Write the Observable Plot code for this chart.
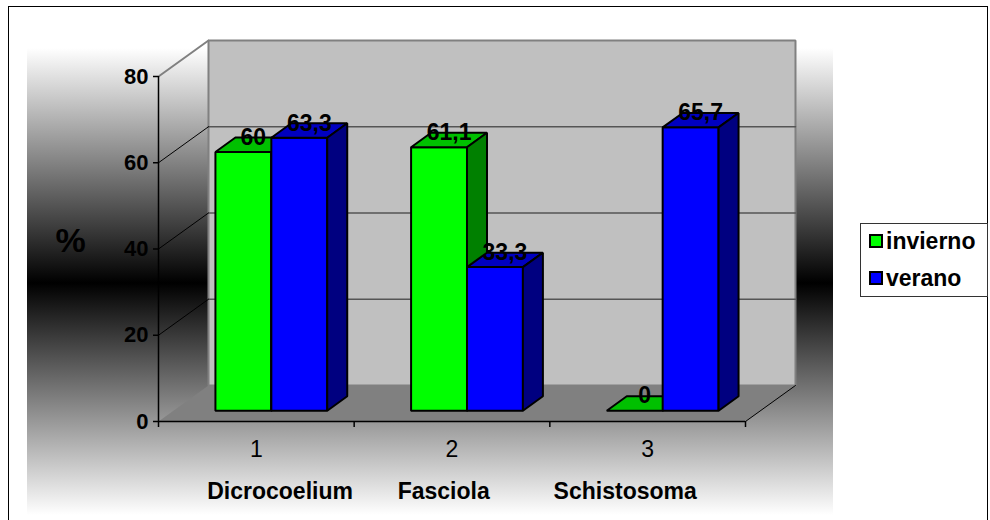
<!DOCTYPE html>
<html>
<head>
<meta charset="utf-8">
<script src="https://cdn.jsdelivr.net/npm/d3@7"></script>
<script src="https://cdn.jsdelivr.net/npm/@observablehq/plot@0.6"></script>
<style>
  html, body { margin: 0; padding: 0; background: #fff; }
  #chart { position: relative; width: 990px; height: 520px; overflow: hidden;
           font-family: Arial, "Liberation Sans", sans-serif; }
  #chart .frame { position: absolute; left: 8px; top: 6px; width: 980px; height: 520px;
                  border: 1px solid #000; box-sizing: border-box; }
  #chart .shade { position: absolute; left: 27px; top: 48px; width: 806px; height: 467px;
                  background: linear-gradient(to bottom, #fff 0%, #000 50.3%, #fff 100%); }
  #chart svg { position: absolute; left: 0; top: 0; }
  #chart .legend { position: absolute; left: 860px; top: 223px; width: 128px; height: 74px;
                   box-sizing: border-box; border: 1px solid #333; background: #fff;
                   font-weight: bold; font-size: 23px; color: #000; }
  #chart .legend .row { position: absolute; left: 8px; height: 26px; display: flex; align-items: center; }
  #chart .legend .sw { width: 10px; height: 10px; border: 2px solid #000; margin-right: 3px; }
</style>
</head>
<body>
<div id="chart">
  <div class="frame"></div>
  <div class="shade"></div>
</div>
<script>
// Parasite prevalence (%) by season
const categories = ["Dicrocoelium", "Fasciola", "Schistosoma"];
const categoryNumbers = ["1", "2", "3"];
const seriesNames = ["invierno", "verano"];
const invierno = [60, 61.1, 0];
const verano = [63.3, 33.3, 65.7];
const yTicks = [0, 20, 40, 60, 80];
const yAxisTitle = "%";

// Colours for each series: front, top and side faces of the 3D columns
const seriesColors = [
  { front: "#00ff00", top: "#00c000", side: "#008000" },
  { front: "#0000ff", top: "#0000c0", side: "#000080" }
];

// Oblique projection of the depth axis, expressed in data units
const DEPTH_X = 0.2555;   // category widths per full depth
const DEPTH_Y = 8.35;     // percentage points per full depth
const BAR_W = 1 / 3.5;    // column width (gap width 150%)
const D0 = 0.3, D1 = 0.7; // front and back of the columns along the depth axis
const Y_MAX = yTicks[yTicks.length - 1];
const N = categories.length;

const proj = (u, v, d) => ({ x: u + d * DEPTH_X, y: v + d * DEPTH_Y });

// Build polygons as vertex tables (one id per face, drawn in order)
function polygonTable() {
  const rows = [];
  let id = 0;
  return {
    rows,
    add(fill, pts) {
      const k = id++;
      for (const [u, v, d] of pts) rows.push({ id: k, fill, ...proj(u, v, d) });
    }
  };
}

const wall = polygonTable();
wall.add("#c0c0c0", [[0, 0, 1], [N, 0, 1], [N, Y_MAX, 1], [0, Y_MAX, 1]]);

const floor = polygonTable();
floor.add("#808080", [[0, 0, 0], [N, 0, 0], [N, 0, 1], [0, 0, 1]]);

const values = [invierno, verano];
const columns = polygonTable();
const labels = [];
for (let i = 0; i < N; i++) {
  for (let s = 0; s < seriesNames.length; s++) {
    const v = values[s][i];
    const x0 = i + 0.5 + (s - 1) * BAR_W;
    const x1 = x0 + BAR_W;
    const c = seriesColors[s];
    if (v > 0) columns.add(c.front, [[x0, 0, D0], [x1, 0, D0], [x1, v, D0], [x0, v, D0]]);
    columns.add(c.top, [[x0, v, D0], [x1, v, D0], [x1, v, D1], [x0, v, D1]]);
    if (v > 0) columns.add(c.side, [[x1, 0, D0], [x1, 0, D1], [x1, v, D1], [x1, v, D0]]);
    const mid = proj((x0 + x1) / 2, v, (D0 + D1) / 2);
    labels.push({ ...mid, text: String(v).replace(".", ",") });
  }
}

// Gridlines: back wall (horizontal) and side wall (diagonal)
const gridTicks = yTicks.filter((t) => t > 0 && t < Y_MAX);
const backGrid = gridTicks.flatMap((t) => [
  { t, ...proj(0, t, 1) }, { t, ...proj(N, t, 1) }
]);
const sideGrid = gridTicks.flatMap((t) => [
  { t, ...proj(0, t, 0) }, { t, ...proj(0, t, 1) }
]);
const wallEdges = [
  { k: "top", ...proj(0, Y_MAX, 0) }, { k: "top", ...proj(0, Y_MAX, 1) }
];
const floorEdge = [
  { k: "r", ...proj(N, 0, 0) }, { k: "r", ...proj(N, 0, 1) }
];

// Category axis title, names separated by runs of non-breaking spaces
const nb = (n) => "\u00a0".repeat(n);
const axisTitle = categories[0] + nb(7) + categories[1] + nb(10) + categories[2];

const chart = Plot.plot({
  width: 990,
  height: 520,
  marginLeft: 158,
  marginRight: 245,
  marginTop: 76,
  marginBottom: 99,
  style: { background: "transparent", fontFamily: 'Arial, "Liberation Sans", sans-serif', color: "#000" },
  x: { type: "linear", domain: [0, N] },
  y: { type: "linear", domain: [0, Y_MAX] },
  color: { type: "identity" },
  marks: [
    // back wall
    Plot.line(wall.rows, { x: "x", y: "y", z: "id", fill: "fill", stroke: "#808080", strokeWidth: 2, curve: "linear-closed", strokeLinejoin: "miter" }),
    Plot.line(wallEdges, { x: "x", y: "y", z: "k", stroke: "#808080", strokeWidth: 2 }),
    // floor
    Plot.line(floor.rows, { x: "x", y: "y", z: "id", fill: "fill", stroke: "none", curve: "linear-closed" }),
    Plot.line(floorEdge, { x: "x", y: "y", z: "k", stroke: "#000", strokeWidth: 1 }),
    // gridlines
    Plot.line(backGrid, { x: "x", y: "y", z: "t", stroke: "#555", strokeWidth: 1.5 }),
    Plot.line(sideGrid, { x: "x", y: "y", z: "t", stroke: "#000", strokeWidth: 1 }),
    // axes
    Plot.ruleX([0], { y1: 0, y2: Y_MAX, stroke: "#000", strokeWidth: 1.5 }),
    Plot.ruleY([0], { x1: 0, x2: N, stroke: "#000", strokeWidth: 1.5 }),
    Plot.axisY({ ticks: yTicks, tickSize: 5, tickPadding: 5, fontSize: 22, fontWeight: "bold", label: null, strokeWidth: 1.5 }),
    Plot.axisX({ ticks: d3.range(N + 1), tickSize: 6, tickFormat: () => "", label: null, strokeWidth: 1.5 }),
    Plot.axisX({ ticks: d3.range(N).map((i) => i + 0.5), tickSize: 0, tickPadding: 19, fontSize: 23,
                 tickFormat: (d) => categoryNumbers[Math.floor(d)], label: null }),
    // 3D columns
    Plot.line(columns.rows, { x: "x", y: "y", z: "id", fill: "fill", stroke: "#000", strokeWidth: 2, curve: "linear-closed", strokeLinejoin: "miter" }),
    // value labels
    Plot.text(labels, { x: "x", y: "y", text: "text", lineAnchor: "bottom", fontSize: 23, fontWeight: "bold", fill: "#000" }),
    // titles
    Plot.text([axisTitle], { frameAnchor: "bottom", lineAnchor: "bottom", dy: 77, fontSize: 23, fontWeight: "bold", fill: "#000" }),
    Plot.text([yAxisTitle], { frameAnchor: "left", textAnchor: "middle", lineAnchor: "bottom", dx: -88, dy: 3, fontSize: 34, fontWeight: "bold", fill: "#000" })
  ]
});

const root = document.getElementById("chart");
root.appendChild(chart);

// Legend
const legend = document.createElement("div");
legend.className = "legend";
seriesNames.forEach((name, s) => {
  const row = document.createElement("div");
  row.className = "row";
  row.style.top = (4 + s * 37) + "px";
  const sw = document.createElement("span");
  sw.className = "sw";
  sw.style.background = seriesColors[s].front;
  const label = document.createElement("span");
  label.textContent = name;
  row.appendChild(sw);
  row.appendChild(label);
  legend.appendChild(row);
});
root.appendChild(legend);
</script>
</body>
</html>
